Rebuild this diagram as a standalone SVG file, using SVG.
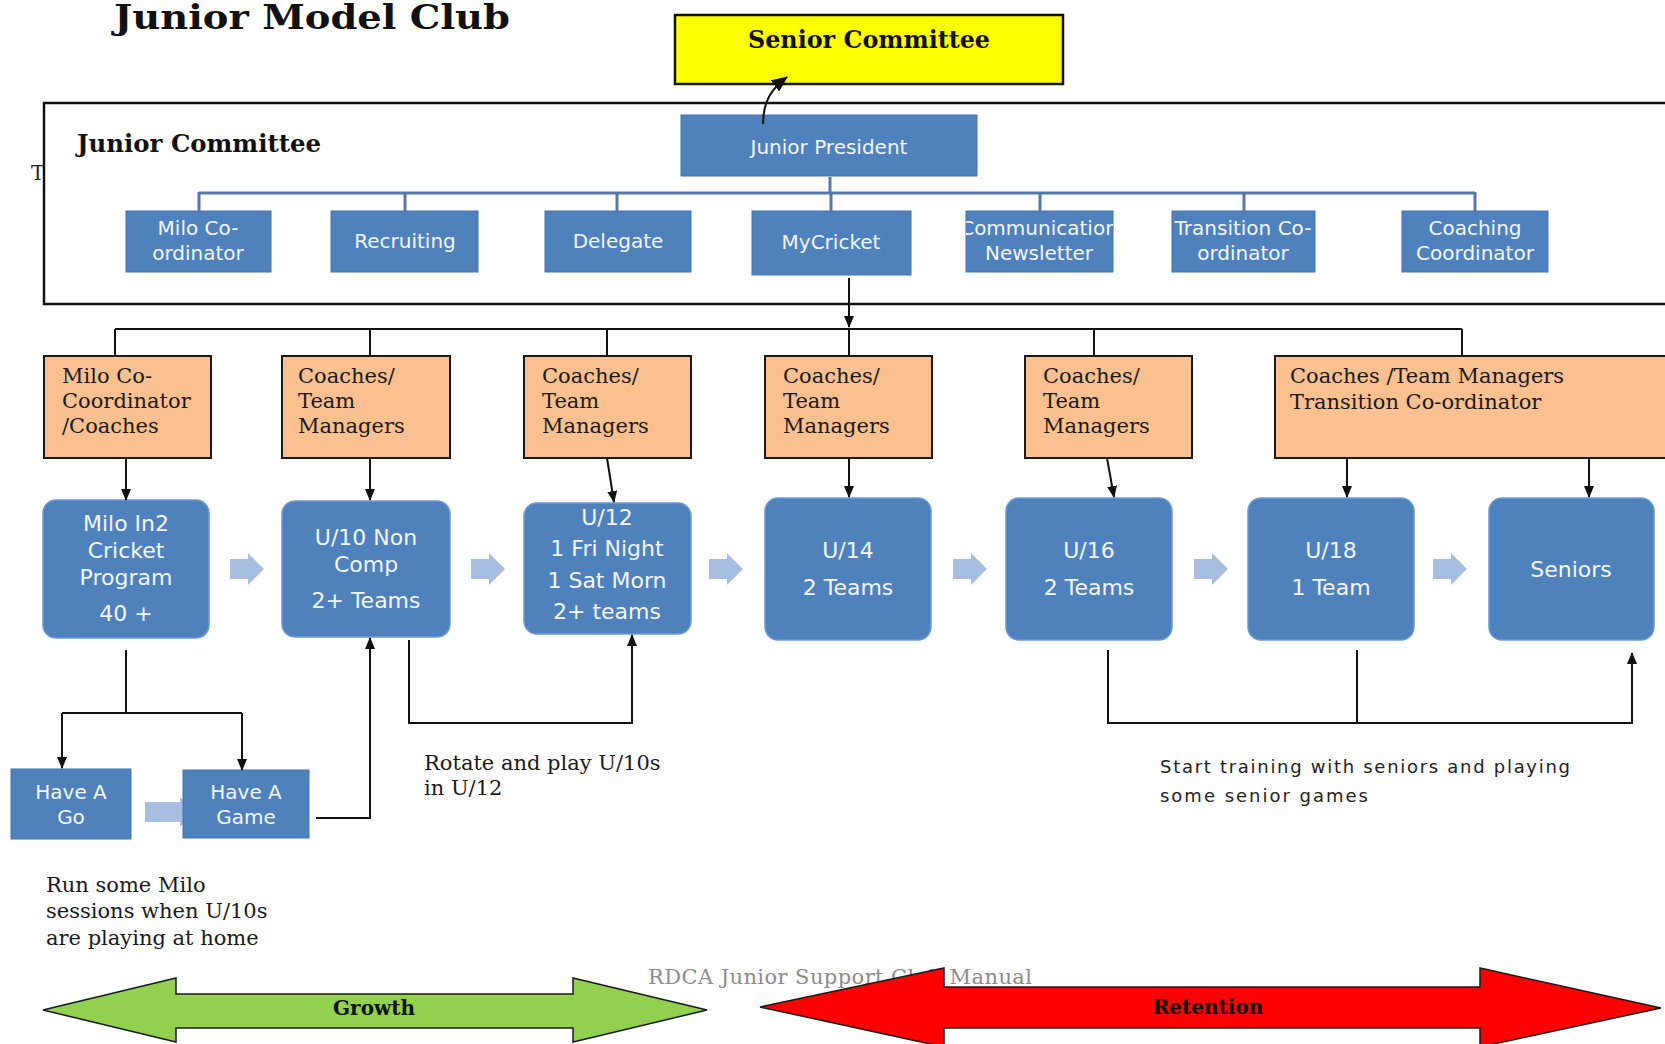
<svg xmlns="http://www.w3.org/2000/svg" width="1665" height="1044" viewBox="0 0 1665 1044">
<style>
.cb{fill:#4F81BD;stroke:#4775AD;stroke-width:1}
.rb{fill:#4F81BD;stroke:#6C9AD2;stroke-width:1.5}
.wt{fill:#F2F6FB;font-family:"DejaVu Sans",sans-serif;text-anchor:middle}
.s20{font-size:20px}
.s22{font-size:22px}
.ob{fill:#FAC090;stroke:#1a1a1a;stroke-width:2}
.st{font-family:"DejaVu Serif",serif;font-size:21px;fill:#1a1a1a}
.hb{font-family:"DejaVu Serif",serif;font-weight:bold;fill:#111}
.ln{stroke:#111;stroke-width:2;fill:none}
.bus{stroke:#5479AE;stroke-width:3;fill:none}
.la{fill:#A8BEE0}
</style>
<defs>
<marker id="ah" markerUnits="userSpaceOnUse" markerWidth="12" markerHeight="10" refX="11" refY="5" orient="auto">
<path d="M0,0 L12,5 L0,10 Z" fill="#111"/>
</marker>
<marker id="ah2" markerUnits="userSpaceOnUse" markerWidth="16" markerHeight="14" refX="15" refY="7" orient="auto">
<path d="M0,0 L16,7 L0,14 Z" fill="#111"/>
</marker>
<clipPath id="cc"><rect x="966" y="210" width="147" height="62"/></clipPath>
</defs>

<rect width="1665" height="1044" fill="#fff"/>

<text class="hb" x="114" y="29" font-size="34" textLength="396" lengthAdjust="spacingAndGlyphs">Junior Model Club</text>
<text x="31" y="180" font-family="DejaVu Serif, serif" font-size="20" fill="#222">T</text>

<g id="junior-committee-frame">
<rect x="44" y="103" width="1660" height="201" fill="none" stroke="#111" stroke-width="2.5"/>
<text class="hb" x="77" y="152" font-size="24" textLength="244" lengthAdjust="spacingAndGlyphs">Junior Committee</text>
</g>

<g id="senior-committee">
<rect x="675" y="15" width="388" height="69" fill="#FFFF00" stroke="#111" stroke-width="2.5"/>
<text class="hb" x="869" y="48" font-size="24" text-anchor="middle" textLength="242" lengthAdjust="spacingAndGlyphs">Senior Committee</text>
</g>

<g id="junior-president">
<rect class="cb" x="681" y="115" width="296" height="61"/>
<text class="wt s20" x="829" y="154">Junior President</text>
</g>

<g id="milo-coordinator">
<rect class="cb" x="126" y="211" width="145" height="61"/>
<text class="wt s20" x="198" y="235">Milo Co-</text>
<text class="wt s20" x="198" y="260">ordinator</text>
</g>
<g id="recruiting">
<rect class="cb" x="331" y="211" width="147" height="61"/>
<text class="wt s20" x="405" y="248">Recruiting</text>
</g>
<g id="delegate">
<rect class="cb" x="545" y="211" width="146" height="61"/>
<text class="wt s20" x="618" y="248">Delegate</text>
</g>
<g id="mycricket">
<rect class="cb" x="752" y="211" width="159" height="64"/>
<text class="wt s20" x="831" y="249">MyCricket</text>
</g>
<g id="communication-newsletter">
<rect class="cb" x="966" y="211" width="147" height="61"/>
<g clip-path="url(#cc)">
<text class="wt s20" x="1039" y="235">Communication</text>
</g>
<text class="wt s20" x="1039" y="260">Newsletter</text>
</g>
<g id="transition-coordinator">
<rect class="cb" x="1172" y="211" width="143" height="61"/>
<text class="wt s20" x="1243" y="235">Transition Co-</text>
<text class="wt s20" x="1243" y="260">ordinator</text>
</g>
<g id="coaching-coordinator">
<rect class="cb" x="1402" y="211" width="146" height="61"/>
<text class="wt s20" x="1475" y="235">Coaching</text>
<text class="wt s20" x="1475" y="260">Coordinator</text>
</g>

<g id="orange-1">
<rect class="ob" x="44" y="356" width="167" height="102"/>
<text class="st" x="62" y="383">Milo Co-</text>
<text class="st" x="62" y="408">Coordinator</text>
<text class="st" x="62" y="433">/Coaches</text>
</g>
<g id="orange-2">
<rect class="ob" x="282" y="356" width="168" height="102"/>
<text class="st" x="298" y="383">Coaches/</text>
<text class="st" x="298" y="408">Team</text>
<text class="st" x="298" y="433">Managers</text>
</g>
<g id="orange-3">
<rect class="ob" x="524" y="356" width="167" height="102"/>
<text class="st" x="542" y="383">Coaches/</text>
<text class="st" x="542" y="408">Team</text>
<text class="st" x="542" y="433">Managers</text>
</g>
<g id="orange-4">
<rect class="ob" x="765" y="356" width="167" height="102"/>
<text class="st" x="783" y="383">Coaches/</text>
<text class="st" x="783" y="408">Team</text>
<text class="st" x="783" y="433">Managers</text>
</g>
<g id="orange-5">
<rect class="ob" x="1025" y="356" width="167" height="102"/>
<text class="st" x="1043" y="383">Coaches/</text>
<text class="st" x="1043" y="408">Team</text>
<text class="st" x="1043" y="433">Managers</text>
</g>
<g id="orange-6">
<rect class="ob" x="1275" y="356" width="440" height="102"/>
<text class="st" x="1290" y="383">Coaches /Team Managers</text>
<text class="st" x="1290" y="409">Transition Co-ordinator</text>
</g>

<g id="milo-in2">
<rect class="rb" x="43" y="500" width="166" height="138" rx="13"/>
<text class="wt s22" x="126" y="531">Milo In2</text>
<text class="wt s22" x="126" y="558">Cricket</text>
<text class="wt s22" x="126" y="585">Program</text>
<text class="wt s22" x="126" y="621">40 +</text>
</g>
<g id="u10">
<rect class="rb" x="282" y="501" width="168" height="136" rx="13"/>
<text class="wt s22" x="366" y="545">U/10 Non</text>
<text class="wt s22" x="366" y="572">Comp</text>
<text class="wt s22" x="366" y="608">2+ Teams</text>
</g>
<g id="u12">
<rect class="rb" x="524" y="503" width="167" height="131" rx="13"/>
<text class="wt s22" x="607" y="525">U/12</text>
<text class="wt s22" x="607" y="556">1 Fri Night</text>
<text class="wt s22" x="607" y="588">1 Sat Morn</text>
<text class="wt s22" x="607" y="619">2+ teams</text>
</g>
<g id="u14">
<rect class="rb" x="765" y="498" width="166" height="142" rx="13"/>
<text class="wt s22" x="848" y="558">U/14</text>
<text class="wt s22" x="848" y="595">2 Teams</text>
</g>
<g id="u16">
<rect class="rb" x="1006" y="498" width="166" height="142" rx="13"/>
<text class="wt s22" x="1089" y="558">U/16</text>
<text class="wt s22" x="1089" y="595">2 Teams</text>
</g>
<g id="u18">
<rect class="rb" x="1248" y="498" width="166" height="142" rx="13"/>
<text class="wt s22" x="1331" y="558">U/18</text>
<text class="wt s22" x="1331" y="595">1 Team</text>
</g>
<g id="seniors">
<rect class="rb" x="1489" y="498" width="165" height="142" rx="13"/>
<text class="wt s22" x="1571" y="577">Seniors</text>
</g>

<g id="flow-arrows">
<path class="la" d="M230,559 H248 V553 L264,569 L248,585 V579 H230 Z"/>
<path class="la" d="M471,559 H489 V553 L505,569 L489,585 V579 H471 Z"/>
<path class="la" d="M709,559 H727 V553 L743,569 L727,585 V579 H709 Z"/>
<path class="la" d="M953,559 H971 V553 L987,569 L971,585 V579 H953 Z"/>
<path class="la" d="M1194,559 H1212 V553 L1228,569 L1212,585 V579 H1194 Z"/>
<path class="la" d="M1433,559 H1451 V553 L1467,569 L1451,585 V579 H1433 Z"/>
<path class="la" d="M145,802 H180 V797 L193,812 L180,827 V822 H145 Z"/>
</g>

<g id="have-a-go">
<rect class="cb" x="11" y="769" width="120" height="70"/>
<text class="wt s20" x="71" y="799">Have A</text>
<text class="wt s20" x="71" y="824">Go</text>
</g>
<g id="have-a-game">
<rect class="cb" x="183" y="770" width="126" height="68"/>
<text class="wt s20" x="246" y="799">Have A</text>
<text class="wt s20" x="246" y="824">Game</text>
</g>

<g id="connectors">
<path class="ln" d="M763,124 C763,102 771,89 787,77" stroke-width="3" marker-end="url(#ah2)"/>
<path class="bus" d="M830,177 V193 M199,193 H1475 M199,192 V211 M405,192 V211 M617,192 V211 M831,192 V211 M1040,192 V211 M1244,192 V211 M1475,192 V211"/>
<path class="ln" d="M849,278 V327" marker-end="url(#ah)"/>
<path class="ln" d="M115,329 H1462 M115,329 V356 M370,329 V356 M607,329 V356 M849,329 V356 M1094,329 V356 M1462,329 V356"/>
<path class="ln" d="M126,458 V500" marker-end="url(#ah)"/>
<path class="ln" d="M370,458 V500" marker-end="url(#ah)"/>
<path class="ln" d="M607,458 L614,502" marker-end="url(#ah)"/>
<path class="ln" d="M849,458 V497" marker-end="url(#ah)"/>
<path class="ln" d="M1107,458 L1114,497" marker-end="url(#ah)"/>
<path class="ln" d="M1347,458 V497" marker-end="url(#ah)"/>
<path class="ln" d="M1589,458 V497" marker-end="url(#ah)"/>
<path class="ln" d="M126,650 V713 M62,713 H242"/>
<path class="ln" d="M62,713 V768" marker-end="url(#ah)"/>
<path class="ln" d="M242,713 V770" marker-end="url(#ah)"/>
<path class="ln" d="M316,818 H370 V638" marker-end="url(#ah)"/>
<path class="ln" d="M409,640 V723 H632 V635" marker-end="url(#ah)"/>
<path class="ln" d="M1108,650 V723 H1632 V653" marker-end="url(#ah)"/>
<path class="ln" d="M1357,650 V723"/>
</g>

<g id="notes">
<text class="st" x="424" y="770">Rotate and play U/10s</text>
<text class="st" x="424" y="795">in U/12</text>
<text class="st" x="46" y="892">Run some Milo</text>
<text class="st" x="46" y="918">sessions when U/10s</text>
<text class="st" x="46" y="945">are playing at home</text>
<text x="1160" y="773" font-family="DejaVu Sans, sans-serif" font-size="18" fill="#222" textLength="410">Start training with seniors and playing</text>
<text x="1160" y="802" font-family="DejaVu Sans, sans-serif" font-size="18" fill="#222" textLength="208">some senior games</text>
<text x="648" y="984" font-family="DejaVu Serif, serif" font-size="21" fill="#8c8c8c" textLength="384">RDCA Junior Support Club Manual</text>
</g>

<g id="growth">
<path d="M43,1010 L176,978 V994 H573 V978 L707,1010 L573,1042 V1028 H176 V1042 Z" fill="#92D050" stroke="#1a1a1a" stroke-width="1.5"/>
<text class="hb" x="374" y="1015" font-size="20" text-anchor="middle" fill="#1e3a0a">Growth</text>
</g>
<g id="retention">
<path d="M760,1007 L944,968 V987 H1480 V968 L1661,1008 L1480,1047 V1028 H944 V1047 Z" fill="#FF0000" stroke="#1a1a1a" stroke-width="1.5"/>
<text class="hb" x="1208" y="1014" font-size="20" text-anchor="middle" fill="#400000">Retention</text>
</g>
</svg>
